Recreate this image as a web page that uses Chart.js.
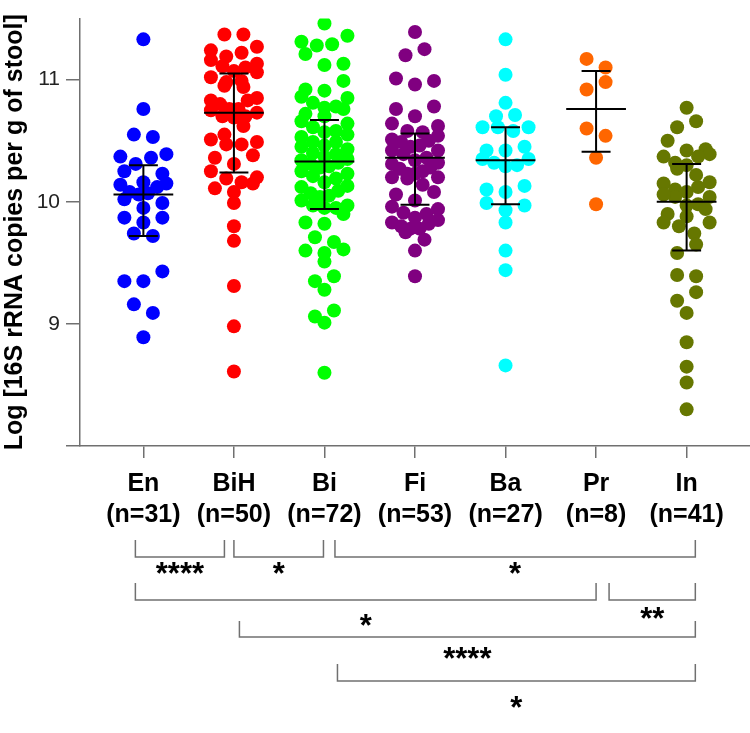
<!DOCTYPE html>
<html><head><meta charset="utf-8">
<script src="https://cdn.jsdelivr.net/npm/chart.js@4/dist/chart.umd.min.js"></script>
<style>html,body{margin:0;padding:0;background:#fff}canvas{display:block}</style>
</head><body>
<canvas id="c" width="750" height="733"></canvas>
<script>
// ---------------- DATA ----------------
const groups = ['En','BiH','Bi','Fi','Ba','Pr','In'];
const valuesEn = [11.33,10.76,10.55,10.53,10.37,10.39,10.36,10.31,10.25,10.23,10.16,10.14,10.15,10.12,10.08,10.06,10.07,9.99,9.95,9.87,9.87,9.83,9.74,9.72,9.43,9.35,9.35,9.16,9.09,8.89,10.02];
const valuesBiH = [11.37,11.37,11.27,11.24,11.22,11.19,11.16,11.13,11.11,11.10,11.07,11.06,10.98,10.99,10.94,10.95,10.83,10.83,10.85,10.76,10.76,10.75,10.73,10.69,10.70,10.70,10.55,10.51,10.49,10.47,10.47,10.38,10.36,10.31,10.25,10.19,10.20,10.16,10.15,10.11,10.08,9.99,9.80,9.68,9.31,8.98,8.61,11.02,10.80,10.62];
const valuesBi = [11.46,11.36,11.31,11.29,11.28,11.21,11.13,11.12,10.99,10.91,10.92,10.85,10.86,10.81,10.76,10.77,10.72,10.70,10.64,10.61,10.58,10.55,10.53,10.49,10.49,10.46,10.45,10.40,10.39,10.35,10.34,10.32,10.31,10.28,10.25,10.21,10.19,10.12,10.13,10.09,10.04,10.05,9.97,9.97,9.95,9.95,9.90,9.83,9.82,9.71,9.67,9.60,9.58,9.61,9.51,9.39,9.35,9.28,9.11,9.06,9.01,8.60,10.78,10.66,10.57,10.43,10.37,10.29,10.23,10.16,10.07,10.01];
const valuesFi = [11.39,11.25,11.20,11.01,10.96,10.99,10.76,10.70,10.78,10.64,10.62,10.58,10.57,10.51,10.49,10.50,10.46,10.42,10.42,10.36,10.34,10.32,10.28,10.27,10.23,10.23,10.19,10.20,10.20,10.06,10.08,10.01,9.94,9.91,9.90,9.87,9.82,9.83,9.78,9.78,9.75,9.69,9.60,9.39,10.54,10.45,10.39,10.31,10.25,10.14,9.96,9.85,9.80];
const valuesBa = [11.33,11.04,10.81,10.71,10.70,10.61,10.61,10.58,10.61,10.42,10.42,10.35,10.35,10.30,10.29,10.13,10.08,10.10,9.99,9.93,9.97,9.83,9.60,9.44,8.66,10.45,10.32];
const valuesPr = [11.17,11.10,10.98,10.92,10.60,10.54,10.36,9.98];
const valuesIn = [10.77,10.66,10.61,10.50,10.43,10.42,10.39,10.37,10.37,10.32,10.30,10.27,10.16,10.15,10.12,10.10,10.08,10.04,10.04,9.98,9.97,9.94,9.90,9.88,9.83,9.83,9.80,9.74,9.65,9.58,9.40,9.39,9.26,9.19,9.09,8.85,8.65,8.52,8.30,10.22,10.06];
const groupValues = [valuesEn,valuesBiH,valuesBi,valuesFi,valuesBa,valuesPr,valuesIn];

// median with interquartile range, as drawn
const medians = [10.06,10.73,10.33,10.36,10.34,10.76,10.00];
const q1 = [9.72,10.24,9.94,9.975,9.98,10.41,9.60];
const q3 = [10.30,11.05,10.67,10.56,10.61,11.07,10.31];

const yTicks = [8,9,10,11];
const yTitle = 'Log [16S rRNA copies per g of stool]';

// significance comparisons [from, to, label]
const comparisons = [
  ['En','BiH','****'],
  ['BiH','Bi','*'],
  ['Bi','In','*'],
  ['En','Pr','*'],
  ['Pr','In','**'],
  ['BiH','In','****'],
  ['Bi','In','*']
];

// ---------------- STYLE / LAYOUT ----------------
const colors = ['#0000ff','#ff0000','#00ff00','#800080','#00ffff','#ff6600','#667700'];
const FONT = "'Liberation Sans', Arial, Helvetica, sans-serif";
const AXIS_COLOR = '#707070';
// bracket layout: top of end ticks, y of horizontal line, endpoint nudges (px), label glyph centre y
const bracketLayout = [
  {top:540, base:557, dl:-8,   dr:-9.5, ly:568},
  {top:540, base:557, dl:0,    dr:-1,   ly:568},
  {top:540, base:557, dl:10.5, dr:8.7,  ly:568},
  {top:583, base:600, dl:-8,   dr:0,    ly:620},
  {top:583, base:600, dl:13,   dr:8.7,  ly:613},
  {top:621, base:637, dl:5.5,  dr:8.7,  ly:653},
  {top:664, base:681, dl:13,   dr:8.7,  ly:702}
];

// Prism-like scatter layout: points grouped in horizontal bands, spread side by side
function binSwarm(ys, H, S, W) {
  const idx = ys.map((y, i) => i).sort((a, b) => ys[a] - ys[b]);
  const bins = [];
  let cur = null;
  idx.forEach(i => {
    if (!cur || ys[i] - ys[cur[0]] > H) { cur = [i]; bins.push(cur); } else { cur.push(i); }
  });
  const xs = new Array(ys.length);
  bins.forEach((b, bi) => {
    const n = b.length;
    const s = n > 1 ? Math.min(S, W / (n - 1)) : 0;
    const sgn = bi % 2 ? 1 : -1;
    const slots = Array.from({length: n}, (_, k) => (k - (n - 1) / 2) * s)
      .sort((a, c) => (Math.abs(a) - Math.abs(c)) || (a - c) * sgn);
    const pts = b.slice().sort((a, c) => ys[c] - ys[a]);
    pts.forEach((p, k) => { xs[p] = slots[k]; });
  });
  return xs;
}

const swarmPlugin = {
  id: 'swarm',
  afterDatasetsUpdate(chart) {
    chart.data.datasets.forEach((ds, di) => {
      const meta = chart.getDatasetMeta(di);
      const ys = meta.data.map(e => e.y);
      const xs = binSwarm(ys, 11, 19, 46);
      meta.data.forEach((e, j) => { e.x = e.x + xs[j]; });
    });
  }
};

const summaryPlugin = {
  id: 'summary',
  afterDatasetsDraw(chart) {
    const {ctx} = chart;
    const xs = chart.scales.x, ys = chart.scales.y;
    ctx.save();
    ctx.strokeStyle = '#000';
    ctx.lineWidth = 2;
    groups.forEach((g, i) => {
      const cx = xs.getPixelForValue(i+1);
      const mw = xs.getPixelForValue(i+1+0.33) - cx;
      const cw = xs.getPixelForValue(i+1+0.16) - cx;
      const ym = ys.getPixelForValue(medians[i]);
      const y1 = ys.getPixelForValue(q1[i]);
      const y3 = ys.getPixelForValue(q3[i]);
      ctx.beginPath();
      ctx.moveTo(cx - mw, ym); ctx.lineTo(cx + mw, ym);
      ctx.moveTo(cx, y1); ctx.lineTo(cx, y3);
      ctx.moveTo(cx - cw, y1); ctx.lineTo(cx + cw, y1);
      ctx.moveTo(cx - cw, y3); ctx.lineTo(cx + cw, y3);
      ctx.stroke();
    });
    ctx.restore();
  }
};

const bracketPlugin = {
  id: 'brackets',
  afterDraw(chart) {
    const {ctx} = chart;
    const xs = chart.scales.x;
    ctx.save();
    ctx.strokeStyle = AXIS_COLOR;
    ctx.lineWidth = 1.5;
    ctx.fillStyle = '#000';
    ctx.font = "bold 31px " + FONT;
    ctx.textAlign = 'center';
    ctx.textBaseline = 'alphabetic';
    comparisons.forEach((c, k) => {
      const L = bracketLayout[k];
      const xl = xs.getPixelForValue(groups.indexOf(c[0]) + 1) + L.dl;
      const xr = xs.getPixelForValue(groups.indexOf(c[1]) + 1) + L.dr;
      ctx.beginPath();
      ctx.moveTo(xl, L.top); ctx.lineTo(xl, L.base); ctx.lineTo(xr, L.base); ctx.lineTo(xr, L.top);
      ctx.stroke();
      const m = ctx.measureText(c[2]);
      const base = L.ly + (m.actualBoundingBoxAscent - m.actualBoundingBoxDescent) / 2;
      ctx.fillText(c[2], (xl + xr) / 2, base);
    });
    ctx.restore();
  }
};

const datasets = groups.map((g, i) => ({
  label: g,
  data: groupValues[i].map(v => ({x: i + 1, y: v})),
  backgroundColor: colors[i],
  borderWidth: 0,
  pointRadius: 7,
  pointHoverRadius: 7
}));

new Chart(document.getElementById('c'), {
  type: 'scatter',
  data: { datasets },
  plugins: [swarmPlugin, summaryPlugin, bracketPlugin],
  options: {
    responsive: false,
    devicePixelRatio: 1,
    animation: false,
    events: [],
    layout: { autoPadding: false, padding: { top: 17, bottom: 187, left: 0, right: 0 } },
    plugins: { legend: { display: false }, tooltip: { enabled: false } },
    scales: {
      x: {
        type: 'linear', min: 0.3, max: 7.7,
        afterBuildTicks: ax => { ax.ticks = groups.map((g, i) => ({value: i + 1})); },
        afterFit: ax => { ax.height = 100; },
        ticks: {
          autoSkip: false, maxRotation: 0, minRotation: 0, padding: 11,
          color: '#000',
          font: { family: FONT, size: 25, weight: 'bold', lineHeight: 1.24 },
          callback: v => { const i = Math.round(v) - 1; return [groups[i], '(n=' + groupValues[i].length + ')']; }
        },
        grid: { display: true, drawOnChartArea: false, drawTicks: true, tickLength: 12, color: AXIS_COLOR, lineWidth: 1.5 },
        border: { display: true, color: AXIS_COLOR, width: 1.5 }
      },
      y: {
        min: 8, max: 11.5,
        afterBuildTicks: ax => { ax.ticks = yTicks.map(v => ({value: v})); },
        afterFit: ax => { ax.width = 80; },
        ticks: {
          padding: 6, color: '#222',
          font: { family: FONT, size: 21 },
          callback: v => v === 8 ? '' : String(v)
        },
        grid: { display: true, drawOnChartArea: false, drawTicks: true, tickLength: 14, color: AXIS_COLOR, lineWidth: 1.5 },
        border: { display: true, color: AXIS_COLOR, width: 1.5 },
        title: {
          display: true, text: yTitle, color: '#000',
          font: { family: FONT, size: 25, weight: 'bold', lineHeight: 1.2 },
          padding: { top: 0, bottom: 0 }
        }
      }
    }
  }
});
</script>
</body></html>
